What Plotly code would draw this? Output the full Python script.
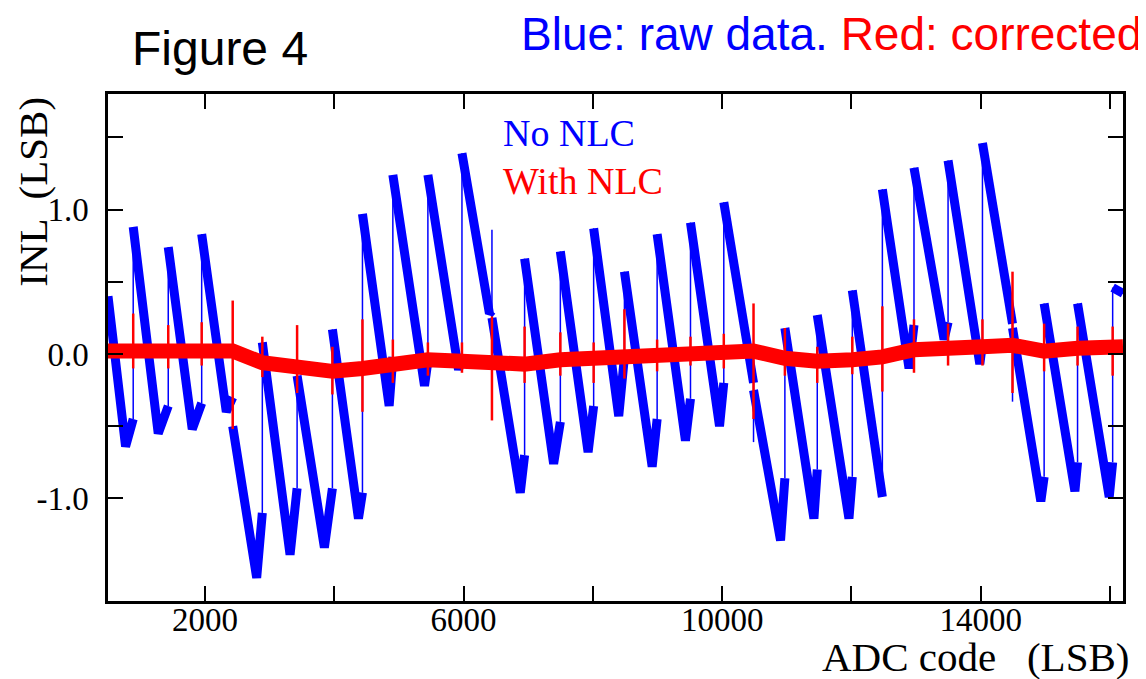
import plotly.graph_objects as go

# ---------------- data ----------------
# Blue "No NLC": one entry per sawtooth segment.
seg_start = [500, 890, 1432, 1949, 2429, 2887, 3425, 3971, 4436, 4906, 5448,
             5975, 6439, 6944, 7497, 8012, 8488, 8994, 9510, 10025, 10485,
             10970, 11471, 12013, 12478, 12967, 13494, 14026, 14491, 14980,
             15497, 16040]
seg_peak = [0.40, 0.88, 0.74, 0.83, -0.50, 0.08, -0.15, 0.17, 0.97, 1.24,
            1.24, 1.39, 0.25, 0.66, 0.71, 0.87, 0.57, 0.83, 0.91, 1.05, -0.25,
            0.18, 0.27, 0.44, 1.14, 1.29, 1.34, 1.46, 0.18, 0.35, 0.35, 0.46]
seg_min_x = [772, 1277, 1803, 2330, 2800, 3316, 3847, 4374, 4849, 5396, 5922,
             6400, 6877, 7393, 7926, 8400, 8917, 9432, 9959, 10460, 10903,
             11419, 11961, 12452, 12890, 13432, 13985, 14465, 14929, 15456,
             15987, 16200]
seg_min_y = [-0.64, -0.55, -0.52, -0.40, -1.55, -1.39, -1.34, -1.14, -0.36,
             -0.22, -0.11, 0.28, -0.96, -0.76, -0.68, -0.43, -0.78, -0.60,
             -0.50, -0.20, -1.29, -1.14, -1.14, -0.99, -0.10, 0.10, -0.07,
             0.21, -1.02, -0.95, -0.99, 0.42]
seg_end_y = [-0.45, -0.36, -0.34, -0.30, -1.10, -0.93, -0.93, -0.96, -0.02,
             -0.05, 0.00, 0.30, -0.70, -0.47, -0.36, -0.02, -0.45, -0.31,
             -0.20, -0.20, -0.86, -0.80, -0.85, -0.99, 0.20, 0.22, 0.07, 0.21,
             -0.85, -0.75, -0.75, 0.42]
x_end = 16200
# thin blue glitches at the big boundaries
glitch_x = [6439, 10485, 14491]
glitch_y = [0.86, -0.61, -0.33]

# Red "With NLC": baseline at each boundary and spike extents
red_x = [500, 890, 1432, 1949, 2429, 2887, 3425, 3971, 4436, 4906, 5448, 5975,
         6439, 6944, 7497, 8012, 8488, 8994, 9510, 10025, 10485, 10970, 11471,
         12013, 12478, 12967, 13494, 14026, 14491, 14980, 15497, 16040, 16200]
red_base = [0.02, 0.02, 0.02, 0.03, 0.02, -0.06, -0.10, -0.12, -0.10, -0.07,
            -0.04, -0.05, -0.06, -0.07, -0.04, -0.03, -0.02, -0.01, 0.00, 0.01,
            0.02, -0.03, -0.05, -0.04, -0.02, 0.03, 0.05, 0.05, 0.06, 0.02,
            0.04, 0.05, 0.05]
spike_x = [890, 1432, 1949, 2429, 2887, 3425, 3971, 4436, 4906, 5448, 5975,
           6439, 6944, 7497, 8012, 8488, 8994, 9510, 10025, 10485, 10970,
           11471, 12013, 12478, 12967, 13494, 14026, 14491, 14980, 15497, 16040]
spike_up = [0.28, 0.20, 0.22, 0.37, 0.12, 0.20, 0.05, 0.24, 0.10, 0.08, 0.08,
            0.26, 0.19, 0.15, 0.08, 0.31, 0.10, 0.12, 0.14, 0.35, 0.18, 0.05,
            0.12, 0.33, 0.24, 0.21, 0.24, 0.57, 0.21, 0.19, 0.19]
spike_dn = [-0.10, -0.10, -0.08, -0.52, -0.16, -0.27, -0.28, -0.40, -0.20,
            -0.15, -0.13, -0.46, -0.20, -0.15, -0.20, -0.17, -0.12, -0.08,
            -0.10, -0.45, -0.15, -0.20, -0.14, -0.26, -0.13, -0.08, -0.08,
            -0.27, -0.12, -0.08, -0.15]

x_tick_vals = [2000, 4000, 6000, 8000, 10000, 12000, 14000, 16000]
x_tick_text = ["2000", "", "6000", "", "10000", "", "14000", ""]
y_tick_vals = [-1.0, -0.5, 0.0, 0.5, 1.0, 1.5]
y_tick_text = ["-1.0", "", "0.0", "", "1.0", ""]

BLUE = "#0000ff"
RED = "#ff0000"
SERIF = "Liberation Serif, Times New Roman, serif"
SANS = "Liberation Sans, Arial, sans-serif"

# ---------------- build traces ----------------
bx, by = [], []
for i in range(len(seg_start)):
    xe = seg_start[i + 1] if i + 1 < len(seg_start) else x_end
    bx += [seg_start[i], seg_min_x[i], xe, None]
    by += [seg_peak[i], seg_min_y[i], seg_end_y[i], None]

jx, jy = [], []
for i in range(1, len(seg_start)):
    jx += [seg_start[i], seg_start[i], None]
    jy += [seg_end_y[i - 1], seg_peak[i], None]
for gx, gy in zip(glitch_x, glitch_y):
    k = seg_start.index(gx)
    jx += [gx, gx, None]
    jy += [seg_peak[k], gy, None]

sx, sy = [], []
for x, u, d in zip(spike_x, spike_up, spike_dn):
    sx += [x, x, None]
    sy += [d, u, None]

fig = go.Figure()
fig.add_trace(go.Scatter(x=jx, y=jy, mode="lines",
                         line=dict(color=BLUE, width=1.5), hoverinfo="skip"))
fig.add_trace(go.Scatter(x=bx, y=by, mode="lines", name="No NLC",
                         line=dict(color=BLUE, width=9)))
fig.add_trace(go.Scatter(x=red_x, y=red_base, mode="lines", name="With NLC",
                         line=dict(color=RED, width=15)))
fig.add_trace(go.Scatter(x=sx, y=sy, mode="lines",
                         line=dict(color=RED, width=2.5), hoverinfo="skip"))

axis_common = dict(showline=True, linecolor="black", linewidth=2.5,
                   mirror="allticks", ticks="inside", ticklen=15,
                   tickwidth=2, tickcolor="black", showgrid=False,
                   zeroline=False,
                   tickfont=dict(family=SERIF, size=33, color="black"))

# the page body has an 8px margin, so the figure is 8px smaller and shifted
fig.update_layout(
    width=1138, height=671,
    margin=dict(l=100, r=23, t=86, b=78),
    plot_bgcolor="white", paper_bgcolor="white",
    showlegend=False,
    xaxis=dict(range=[500, 16200], tickvals=x_tick_vals,
               ticktext=x_tick_text, ticklabelstandoff=-12, **axis_common),
    yaxis=dict(range=[-1.71, 1.80], tickvals=y_tick_vals,
               ticktext=y_tick_text, ticklabelstandoff=10, **axis_common),
    annotations=[
        dict(text="Figure 4", xref="paper", yref="paper", x=0.022, y=1.089,
             xanchor="left", yanchor="middle", showarrow=False,
             font=dict(family=SANS, size=48, color="black")),
        dict(text=f"<span style='color:{BLUE}'>Blue: raw data.</span> "
                  f"<span style='color:{RED}'>Red: corrected</span>",
             xref="paper", yref="paper", x=1.021, y=1.118,
             xanchor="right", yanchor="middle", showarrow=False,
             font=dict(family=SANS, size=46)),
        dict(text="No NLC", xref="paper", yref="paper", x=0.387, y=0.923,
             xanchor="left", yanchor="middle", showarrow=False,
             font=dict(family=SERIF, size=38, color=BLUE)),
        dict(text="With NLC", xref="paper", yref="paper", x=0.387, y=0.828,
             xanchor="left", yanchor="middle", showarrow=False,
             font=dict(family=SERIF, size=38, color=RED)),
        dict(text="ADC code   (LSB)", xref="paper", yref="paper", x=1.008,
             y=-0.111, xanchor="right", yanchor="middle", showarrow=False,
             font=dict(family=SERIF, size=41, color="black")),
        dict(text="INL  (LSB)", xref="paper", yref="paper", x=-0.074,
             y=0.807, xanchor="center", yanchor="middle", textangle=-90,
             showarrow=False,
             font=dict(family=SERIF, size=41, color="black")),
    ],
)

fig.write_html("out.html")
